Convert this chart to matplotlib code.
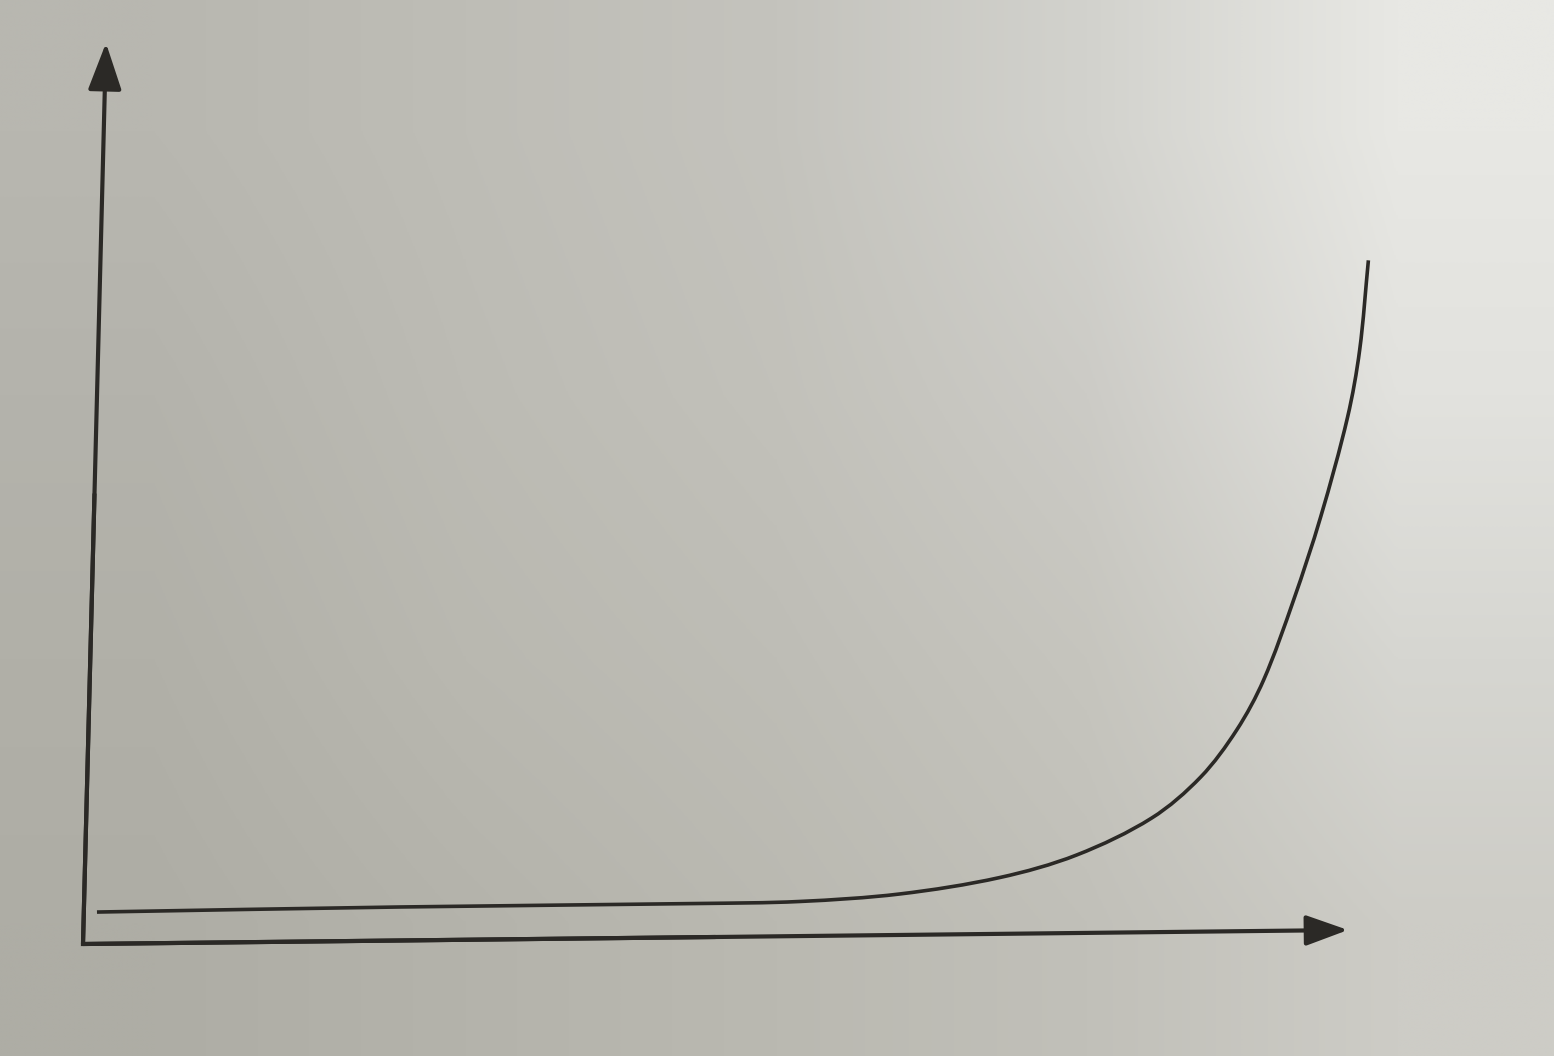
import numpy as np
import matplotlib.pyplot as plt
from matplotlib.path import Path
from matplotlib.patches import PathPatch
from matplotlib.transforms import Affine2D

# curve, in units along each axis arrow (0 = origin, 100 = arrow tip)
x_vals = [1.04, 24.98, 48.69, 56.58, 64.48, 72.35, 78.39, 84.25, 88.04,
          90.79, 92.82, 95.03, 97.00, 98.93, 99.75, 100.26]
y_vals = [3.53, 3.72, 3.74, 3.84, 4.55, 6.25, 8.66, 12.67, 17.16,
          22.33, 27.85, 36.69, 45.87, 56.93, 64.36, 74.32]
axis_len = 100

# paper tones (photo of a printed page), top row first, left to right
paper = np.array([
    [[184, 183, 176], [190, 189, 182], [196, 195, 189], [210, 210, 205], [232, 232, 228]],
    [[180, 179, 172], [188, 187, 180], [194, 193, 186], [204, 203, 198], [226, 226, 222]],
    [[177, 176, 168], [185, 184, 176], [190, 189, 182], [198, 197, 190], [214, 214, 209]],
    [[174, 173, 165], [180, 179, 171], [186, 185, 177], [193, 192, 185], [205, 204, 198]],
]) / 255.0

ink = '#2b2926'

W, H = 1554, 1056
# the page is photographed slightly skewed: where the axis ends sit, in pixels
origin = (83, 112)
x_tip = (1348, 126)
y_tip = (106, 1013)


def smooth_path(xs, ys, aspect):
    """Bezier path through every read point, chord-length Catmull-Rom tangents."""
    pts = np.column_stack([xs, ys]).astype(float)
    n = len(pts)
    seg = np.hypot(np.diff(pts[:, 0]) * aspect[0], np.diff(pts[:, 1]) * aspect[1])
    t = np.concatenate([[0], np.cumsum(seg)])
    tang = np.zeros_like(pts)
    tang[0] = (pts[1] - pts[0]) / (t[1] - t[0])
    tang[-1] = (pts[-1] - pts[-2]) / (t[-1] - t[-2])
    for i in range(1, n - 1):
        tang[i] = (pts[i + 1] - pts[i - 1]) / (t[i + 1] - t[i - 1])
    verts = [pts[0]]
    codes = [Path.MOVETO]
    for i in range(n - 1):
        h = t[i + 1] - t[i]
        verts += [pts[i] + tang[i] * h / 3, pts[i + 1] - tang[i + 1] * h / 3, pts[i + 1]]
        codes += [Path.CURVE4] * 3
    return Path(verts, codes)


fig = plt.figure(figsize=(W / 100, H / 100), dpi=100)
ax = fig.add_axes([0, 0, 1, 1])
ax.set_xlim(0, 1)
ax.set_ylim(0, 1)
ax.set_axis_off()
ax.imshow(paper, extent=[0, 1, 0, 1], aspect='auto', interpolation='bilinear', zorder=0)

m = np.array([
    [(x_tip[0] - origin[0]) / axis_len / W, (y_tip[0] - origin[0]) / axis_len / W, origin[0] / W],
    [(x_tip[1] - origin[1]) / axis_len / H, (y_tip[1] - origin[1]) / axis_len / H, origin[1] / H],
    [0, 0, 1],
])
page = Affine2D(m) + fig.transFigure
px_per_unit = ((x_tip[0] - origin[0]) / axis_len, (y_tip[1] - origin[1]) / axis_len)

# axes drawn as an L with arrow heads
ax.plot([0, 0, axis_len * 0.5], [axis_len * 0.5, 0, 0], color=ink, lw=3.0,
        solid_joinstyle='miter', solid_capstyle='butt', transform=page, clip_on=False, zorder=2)
ax.annotate('', xy=(axis_len, 0), xytext=(0, 0), xycoords=page, textcoords=page,
            arrowprops=dict(arrowstyle='-|>,head_length=1.3,head_width=0.47', mutation_scale=20,
                            lw=3.0, color=ink, shrinkA=0, shrinkB=0))
ax.annotate('', xy=(0, axis_len), xytext=(0, 0), xycoords=page, textcoords=page,
            arrowprops=dict(arrowstyle='-|>,head_length=1.45,head_width=0.52', mutation_scale=20,
                            lw=3.0, color=ink, shrinkA=0, shrinkB=0))

# the curve
curve = PathPatch(smooth_path(x_vals, y_vals, px_per_unit), facecolor='none', edgecolor=ink,
                  lw=2.6, capstyle='butt', joinstyle='round', transform=page, clip_on=False,
                  zorder=3)
ax.add_patch(curve)

fig.savefig('out.png', dpi=100)
